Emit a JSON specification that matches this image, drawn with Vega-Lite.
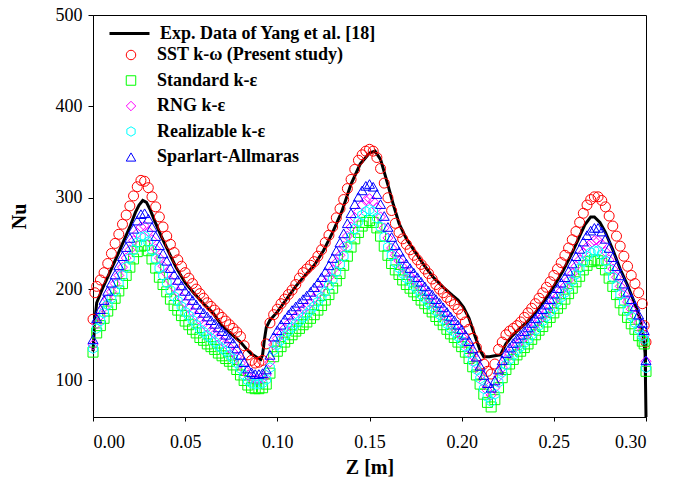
{
"$schema":"https://vega.github.io/schema/vega-lite/v6.json",
"width":553,"height":402,
"autosize":{"type":"none"},
"padding":{"left":93,"top":15,"right":35,"bottom":64},
"background":"white",
"config":{"view":{"stroke":"black","strokeWidth":1},"font":"Liberation Serif",
"axis":{"grid":false,"domainColor":"black","tickColor":"black","labelColor":"black","titleColor":"black","labelFont":"Liberation Serif","labelFontSize":18,"titleFont":"Liberation Serif","titleFontSize":20,"titleFontWeight":"bold","tickSize":5}},
"datasets":{
"exp":[
{"z":0,"nu":132},{"z":0.001,"nu":165},{"z":0.002,"nu":185},{"z":0.005,"nu":200},{"z":0.01,"nu":222},{"z":0.015,"nu":245},{"z":0.02,"nu":268},{"z":0.023,"nu":284},{"z":0.025,"nu":292},{"z":0.027,"nu":297},{"z":0.029,"nu":295},{"z":0.031,"nu":287},{"z":0.034,"nu":272},{"z":0.037,"nu":258},{"z":0.04,"nu":245},{"z":0.045,"nu":224},{"z":0.05,"nu":207},{"z":0.055,"nu":195},{"z":0.06,"nu":184},{"z":0.065,"nu":174},{"z":0.07,"nu":160},{"z":0.075,"nu":151},{"z":0.08,"nu":142},{"z":0.083,"nu":135},{"z":0.086,"nu":129},{"z":0.089,"nu":125},{"z":0.091,"nu":123},{"z":0.092,"nu":128},{"z":0.093,"nu":145},{"z":0.094,"nu":158},{"z":0.096,"nu":166},{"z":0.1,"nu":175},{"z":0.105,"nu":189},{"z":0.11,"nu":203},{"z":0.115,"nu":215},{"z":0.12,"nu":226},{"z":0.125,"nu":242},{"z":0.13,"nu":262},{"z":0.135,"nu":285},{"z":0.14,"nu":315},{"z":0.145,"nu":337},{"z":0.15,"nu":349},{"z":0.153,"nu":351},{"z":0.156,"nu":342},{"z":0.16,"nu":314},{"z":0.163,"nu":292},{"z":0.166,"nu":272},{"z":0.17,"nu":255},{"z":0.175,"nu":240},{"z":0.18,"nu":225},{"z":0.185,"nu":212},{"z":0.19,"nu":202},{"z":0.195,"nu":193},{"z":0.198,"nu":188},{"z":0.201,"nu":180},{"z":0.204,"nu":168},{"z":0.207,"nu":150},{"z":0.21,"nu":133},{"z":0.212,"nu":126},{"z":0.215,"nu":126},{"z":0.218,"nu":127},{"z":0.221,"nu":128},{"z":0.224,"nu":140},{"z":0.227,"nu":148},{"z":0.23,"nu":154},{"z":0.235,"nu":163},{"z":0.24,"nu":174},{"z":0.245,"nu":188},{"z":0.25,"nu":203},{"z":0.255,"nu":220},{"z":0.26,"nu":240},{"z":0.264,"nu":258},{"z":0.267,"nu":271},{"z":0.27,"nu":279},{"z":0.272,"nu":279},{"z":0.275,"nu":273},{"z":0.278,"nu":262},{"z":0.282,"nu":243},{"z":0.286,"nu":222},{"z":0.29,"nu":204},{"z":0.294,"nu":184},{"z":0.297,"nu":166},{"z":0.2985,"nu":150},{"z":0.2995,"nu":130},{"z":0.3,"nu":60}
],
"models":[
{"m":"SST","z":0,"nu":167},{"m":"SST","z":0.001,"nu":196},{"m":"SST","z":0.002,"nu":203},{"m":"SST","z":0.004,"nu":210},{"m":"SST","z":0.006,"nu":218},{"m":"SST","z":0.008,"nu":228},{"m":"SST","z":0.01,"nu":239},{"m":"SST","z":0.012,"nu":250},{"m":"SST","z":0.014,"nu":260},{"m":"SST","z":0.016,"nu":271},{"m":"SST","z":0.018,"nu":281},{"m":"SST","z":0.02,"nu":291},{"m":"SST","z":0.022,"nu":302},{"m":"SST","z":0.024,"nu":312},{"m":"SST","z":0.026,"nu":319},{"m":"SST","z":0.028,"nu":318},{"m":"SST","z":0.03,"nu":311},{"m":"SST","z":0.032,"nu":301},{"m":"SST","z":0.034,"nu":290},{"m":"SST","z":0.036,"nu":279},{"m":"SST","z":0.038,"nu":268},{"m":"SST","z":0.04,"nu":258},{"m":"SST","z":0.042,"nu":249},{"m":"SST","z":0.044,"nu":240},{"m":"SST","z":0.046,"nu":232},{"m":"SST","z":0.048,"nu":225},{"m":"SST","z":0.05,"nu":218},{"m":"SST","z":0.052,"nu":212},{"m":"SST","z":0.054,"nu":206},{"m":"SST","z":0.056,"nu":200},{"m":"SST","z":0.058,"nu":195},{"m":"SST","z":0.06,"nu":190},{"m":"SST","z":0.062,"nu":185},{"m":"SST","z":0.064,"nu":181},{"m":"SST","z":0.066,"nu":177},{"m":"SST","z":0.068,"nu":173},{"m":"SST","z":0.07,"nu":169},{"m":"SST","z":0.072,"nu":165},{"m":"SST","z":0.074,"nu":161},{"m":"SST","z":0.076,"nu":157},{"m":"SST","z":0.078,"nu":153},{"m":"SST","z":0.08,"nu":148},{"m":"SST","z":0.082,"nu":138},{"m":"SST","z":0.084,"nu":128},{"m":"SST","z":0.086,"nu":122},{"m":"SST","z":0.088,"nu":119},{"m":"SST","z":0.09,"nu":120},{"m":"SST","z":0.092,"nu":122},{"m":"SST","z":0.094,"nu":140},{"m":"SST","z":0.096,"nu":163},{"m":"SST","z":0.098,"nu":172},{"m":"SST","z":0.1,"nu":178},{"m":"SST","z":0.102,"nu":184},{"m":"SST","z":0.104,"nu":189},{"m":"SST","z":0.106,"nu":194},{"m":"SST","z":0.108,"nu":199},{"m":"SST","z":0.11,"nu":205},{"m":"SST","z":0.112,"nu":212},{"m":"SST","z":0.114,"nu":218},{"m":"SST","z":0.116,"nu":222},{"m":"SST","z":0.118,"nu":226},{"m":"SST","z":0.12,"nu":230},{"m":"SST","z":0.122,"nu":236},{"m":"SST","z":0.124,"nu":243},{"m":"SST","z":0.126,"nu":251},{"m":"SST","z":0.128,"nu":259},{"m":"SST","z":0.13,"nu":268},{"m":"SST","z":0.132,"nu":278},{"m":"SST","z":0.134,"nu":288},{"m":"SST","z":0.136,"nu":298},{"m":"SST","z":0.138,"nu":310},{"m":"SST","z":0.14,"nu":320},{"m":"SST","z":0.142,"nu":331},{"m":"SST","z":0.144,"nu":341},{"m":"SST","z":0.146,"nu":347},{"m":"SST","z":0.148,"nu":351},{"m":"SST","z":0.15,"nu":353},{"m":"SST","z":0.152,"nu":351},{"m":"SST","z":0.154,"nu":344},{"m":"SST","z":0.156,"nu":332},{"m":"SST","z":0.158,"nu":316},{"m":"SST","z":0.16,"nu":300},{"m":"SST","z":0.162,"nu":286},{"m":"SST","z":0.164,"nu":272},{"m":"SST","z":0.166,"nu":262},{"m":"SST","z":0.168,"nu":255},{"m":"SST","z":0.17,"nu":249},{"m":"SST","z":0.172,"nu":243},{"m":"SST","z":0.174,"nu":237},{"m":"SST","z":0.176,"nu":232},{"m":"SST","z":0.178,"nu":227},{"m":"SST","z":0.18,"nu":222},{"m":"SST","z":0.182,"nu":217},{"m":"SST","z":0.184,"nu":211},{"m":"SST","z":0.186,"nu":205},{"m":"SST","z":0.188,"nu":200},{"m":"SST","z":0.19,"nu":196},{"m":"SST","z":0.192,"nu":191},{"m":"SST","z":0.194,"nu":187},{"m":"SST","z":0.196,"nu":183},{"m":"SST","z":0.198,"nu":178},{"m":"SST","z":0.2,"nu":172},{"m":"SST","z":0.202,"nu":164},{"m":"SST","z":0.204,"nu":156},{"m":"SST","z":0.206,"nu":146},{"m":"SST","z":0.208,"nu":136},{"m":"SST","z":0.21,"nu":127},{"m":"SST","z":0.212,"nu":118},{"m":"SST","z":0.214,"nu":110},{"m":"SST","z":0.216,"nu":107},{"m":"SST","z":0.218,"nu":118},{"m":"SST","z":0.22,"nu":134},{"m":"SST","z":0.222,"nu":142},{"m":"SST","z":0.224,"nu":150},{"m":"SST","z":0.226,"nu":154},{"m":"SST","z":0.228,"nu":157},{"m":"SST","z":0.23,"nu":160},{"m":"SST","z":0.232,"nu":164},{"m":"SST","z":0.234,"nu":169},{"m":"SST","z":0.236,"nu":174},{"m":"SST","z":0.238,"nu":179},{"m":"SST","z":0.24,"nu":184},{"m":"SST","z":0.242,"nu":190},{"m":"SST","z":0.244,"nu":196},{"m":"SST","z":0.246,"nu":202},{"m":"SST","z":0.248,"nu":208},{"m":"SST","z":0.25,"nu":215},{"m":"SST","z":0.252,"nu":222},{"m":"SST","z":0.254,"nu":229},{"m":"SST","z":0.256,"nu":237},{"m":"SST","z":0.258,"nu":245},{"m":"SST","z":0.26,"nu":254},{"m":"SST","z":0.262,"nu":263},{"m":"SST","z":0.264,"nu":273},{"m":"SST","z":0.266,"nu":283},{"m":"SST","z":0.268,"nu":292},{"m":"SST","z":0.27,"nu":298},{"m":"SST","z":0.272,"nu":301},{"m":"SST","z":0.274,"nu":301},{"m":"SST","z":0.276,"nu":297},{"m":"SST","z":0.278,"nu":290},{"m":"SST","z":0.28,"nu":280},{"m":"SST","z":0.282,"nu":269},{"m":"SST","z":0.284,"nu":258},{"m":"SST","z":0.286,"nu":247},{"m":"SST","z":0.288,"nu":236},{"m":"SST","z":0.29,"nu":225},{"m":"SST","z":0.292,"nu":215},{"m":"SST","z":0.294,"nu":206},{"m":"SST","z":0.296,"nu":196},{"m":"SST","z":0.298,"nu":184},{"m":"SST","z":0.299,"nu":160},{"m":"SST","z":0.3,"nu":142},
{"m":"STD","z":0,"nu":131},{"m":"STD","z":0.002,"nu":152},{"m":"STD","z":0.004,"nu":160},{"m":"STD","z":0.006,"nu":168},{"m":"STD","z":0.008,"nu":176},{"m":"STD","z":0.01,"nu":183},{"m":"STD","z":0.012,"nu":190},{"m":"STD","z":0.014,"nu":198},{"m":"STD","z":0.016,"nu":206},{"m":"STD","z":0.018,"nu":215},{"m":"STD","z":0.02,"nu":224},{"m":"STD","z":0.022,"nu":233},{"m":"STD","z":0.024,"nu":241},{"m":"STD","z":0.026,"nu":247},{"m":"STD","z":0.028,"nu":248},{"m":"STD","z":0.03,"nu":242},{"m":"STD","z":0.032,"nu":233},{"m":"STD","z":0.034,"nu":223},{"m":"STD","z":0.036,"nu":213},{"m":"STD","z":0.038,"nu":205},{"m":"STD","z":0.04,"nu":197},{"m":"STD","z":0.042,"nu":189},{"m":"STD","z":0.044,"nu":182},{"m":"STD","z":0.046,"nu":177},{"m":"STD","z":0.048,"nu":171},{"m":"STD","z":0.05,"nu":165},{"m":"STD","z":0.052,"nu":161},{"m":"STD","z":0.054,"nu":156},{"m":"STD","z":0.056,"nu":152},{"m":"STD","z":0.058,"nu":147},{"m":"STD","z":0.06,"nu":144},{"m":"STD","z":0.062,"nu":140},{"m":"STD","z":0.064,"nu":137},{"m":"STD","z":0.066,"nu":134},{"m":"STD","z":0.068,"nu":130},{"m":"STD","z":0.07,"nu":127},{"m":"STD","z":0.072,"nu":124},{"m":"STD","z":0.074,"nu":121},{"m":"STD","z":0.076,"nu":117},{"m":"STD","z":0.078,"nu":112},{"m":"STD","z":0.08,"nu":106},{"m":"STD","z":0.082,"nu":100},{"m":"STD","z":0.084,"nu":95},{"m":"STD","z":0.086,"nu":92},{"m":"STD","z":0.088,"nu":91},{"m":"STD","z":0.09,"nu":91},{"m":"STD","z":0.092,"nu":92},{"m":"STD","z":0.094,"nu":96},{"m":"STD","z":0.096,"nu":108},{"m":"STD","z":0.098,"nu":126},{"m":"STD","z":0.1,"nu":132},{"m":"STD","z":0.102,"nu":137},{"m":"STD","z":0.104,"nu":142},{"m":"STD","z":0.106,"nu":146},{"m":"STD","z":0.108,"nu":150},{"m":"STD","z":0.11,"nu":154},{"m":"STD","z":0.112,"nu":157},{"m":"STD","z":0.114,"nu":161},{"m":"STD","z":0.116,"nu":164},{"m":"STD","z":0.118,"nu":168},{"m":"STD","z":0.12,"nu":172},{"m":"STD","z":0.122,"nu":177},{"m":"STD","z":0.124,"nu":182},{"m":"STD","z":0.126,"nu":188},{"m":"STD","z":0.128,"nu":194},{"m":"STD","z":0.13,"nu":201},{"m":"STD","z":0.132,"nu":209},{"m":"STD","z":0.134,"nu":217},{"m":"STD","z":0.136,"nu":226},{"m":"STD","z":0.138,"nu":236},{"m":"STD","z":0.14,"nu":246},{"m":"STD","z":0.142,"nu":255},{"m":"STD","z":0.144,"nu":262},{"m":"STD","z":0.146,"nu":269},{"m":"STD","z":0.148,"nu":273},{"m":"STD","z":0.15,"nu":275},{"m":"STD","z":0.152,"nu":273},{"m":"STD","z":0.154,"nu":267},{"m":"STD","z":0.156,"nu":258},{"m":"STD","z":0.158,"nu":247},{"m":"STD","z":0.16,"nu":237},{"m":"STD","z":0.162,"nu":228},{"m":"STD","z":0.164,"nu":221},{"m":"STD","z":0.166,"nu":216},{"m":"STD","z":0.168,"nu":210},{"m":"STD","z":0.17,"nu":205},{"m":"STD","z":0.172,"nu":201},{"m":"STD","z":0.174,"nu":197},{"m":"STD","z":0.176,"nu":193},{"m":"STD","z":0.178,"nu":188},{"m":"STD","z":0.18,"nu":184},{"m":"STD","z":0.182,"nu":179},{"m":"STD","z":0.184,"nu":175},{"m":"STD","z":0.186,"nu":170},{"m":"STD","z":0.188,"nu":166},{"m":"STD","z":0.19,"nu":161},{"m":"STD","z":0.192,"nu":156},{"m":"STD","z":0.194,"nu":151},{"m":"STD","z":0.196,"nu":147},{"m":"STD","z":0.198,"nu":142},{"m":"STD","z":0.2,"nu":137},{"m":"STD","z":0.202,"nu":131},{"m":"STD","z":0.204,"nu":124},{"m":"STD","z":0.206,"nu":115},{"m":"STD","z":0.208,"nu":106},{"m":"STD","z":0.21,"nu":96},{"m":"STD","z":0.212,"nu":85},{"m":"STD","z":0.214,"nu":76},{"m":"STD","z":0.216,"nu":71},{"m":"STD","z":0.218,"nu":79},{"m":"STD","z":0.22,"nu":92},{"m":"STD","z":0.222,"nu":103},{"m":"STD","z":0.224,"nu":112},{"m":"STD","z":0.226,"nu":118},{"m":"STD","z":0.228,"nu":123},{"m":"STD","z":0.23,"nu":128},{"m":"STD","z":0.232,"nu":132},{"m":"STD","z":0.234,"nu":136},{"m":"STD","z":0.236,"nu":140},{"m":"STD","z":0.238,"nu":145},{"m":"STD","z":0.24,"nu":150},{"m":"STD","z":0.242,"nu":155},{"m":"STD","z":0.244,"nu":159},{"m":"STD","z":0.246,"nu":164},{"m":"STD","z":0.248,"nu":169},{"m":"STD","z":0.25,"nu":174},{"m":"STD","z":0.252,"nu":179},{"m":"STD","z":0.254,"nu":184},{"m":"STD","z":0.256,"nu":189},{"m":"STD","z":0.258,"nu":195},{"m":"STD","z":0.26,"nu":201},{"m":"STD","z":0.262,"nu":208},{"m":"STD","z":0.264,"nu":214},{"m":"STD","z":0.266,"nu":221},{"m":"STD","z":0.268,"nu":226},{"m":"STD","z":0.27,"nu":230},{"m":"STD","z":0.272,"nu":232},{"m":"STD","z":0.274,"nu":231},{"m":"STD","z":0.276,"nu":228},{"m":"STD","z":0.278,"nu":221},{"m":"STD","z":0.28,"nu":212},{"m":"STD","z":0.282,"nu":203},{"m":"STD","z":0.284,"nu":194},{"m":"STD","z":0.286,"nu":185},{"m":"STD","z":0.288,"nu":177},{"m":"STD","z":0.29,"nu":169},{"m":"STD","z":0.292,"nu":162},{"m":"STD","z":0.294,"nu":156},{"m":"STD","z":0.296,"nu":149},{"m":"STD","z":0.298,"nu":143},{"m":"STD","z":0.299,"nu":140},{"m":"STD","z":0.3,"nu":110},
{"m":"RNG","z":0,"nu":139},{"m":"RNG","z":0.002,"nu":162},{"m":"RNG","z":0.004,"nu":171},{"m":"RNG","z":0.006,"nu":180},{"m":"RNG","z":0.008,"nu":189},{"m":"RNG","z":0.01,"nu":197},{"m":"RNG","z":0.012,"nu":206},{"m":"RNG","z":0.014,"nu":215},{"m":"RNG","z":0.016,"nu":224},{"m":"RNG","z":0.018,"nu":234},{"m":"RNG","z":0.02,"nu":243},{"m":"RNG","z":0.022,"nu":253},{"m":"RNG","z":0.024,"nu":261},{"m":"RNG","z":0.026,"nu":268},{"m":"RNG","z":0.028,"nu":269},{"m":"RNG","z":0.03,"nu":263},{"m":"RNG","z":0.032,"nu":254},{"m":"RNG","z":0.034,"nu":244},{"m":"RNG","z":0.036,"nu":234},{"m":"RNG","z":0.038,"nu":225},{"m":"RNG","z":0.04,"nu":217},{"m":"RNG","z":0.042,"nu":209},{"m":"RNG","z":0.044,"nu":202},{"m":"RNG","z":0.046,"nu":197},{"m":"RNG","z":0.048,"nu":191},{"m":"RNG","z":0.05,"nu":185},{"m":"RNG","z":0.052,"nu":180},{"m":"RNG","z":0.054,"nu":175},{"m":"RNG","z":0.056,"nu":171},{"m":"RNG","z":0.058,"nu":166},{"m":"RNG","z":0.06,"nu":162},{"m":"RNG","z":0.062,"nu":158},{"m":"RNG","z":0.064,"nu":154},{"m":"RNG","z":0.066,"nu":151},{"m":"RNG","z":0.068,"nu":147},{"m":"RNG","z":0.07,"nu":143},{"m":"RNG","z":0.072,"nu":140},{"m":"RNG","z":0.074,"nu":136},{"m":"RNG","z":0.076,"nu":131},{"m":"RNG","z":0.078,"nu":126},{"m":"RNG","z":0.08,"nu":119},{"m":"RNG","z":0.082,"nu":112},{"m":"RNG","z":0.084,"nu":106},{"m":"RNG","z":0.086,"nu":102},{"m":"RNG","z":0.088,"nu":101},{"m":"RNG","z":0.09,"nu":101},{"m":"RNG","z":0.092,"nu":102},{"m":"RNG","z":0.094,"nu":106},{"m":"RNG","z":0.096,"nu":120},{"m":"RNG","z":0.098,"nu":139},{"m":"RNG","z":0.1,"nu":146},{"m":"RNG","z":0.102,"nu":151},{"m":"RNG","z":0.104,"nu":157},{"m":"RNG","z":0.106,"nu":162},{"m":"RNG","z":0.108,"nu":166},{"m":"RNG","z":0.11,"nu":170},{"m":"RNG","z":0.112,"nu":174},{"m":"RNG","z":0.114,"nu":178},{"m":"RNG","z":0.116,"nu":181},{"m":"RNG","z":0.118,"nu":185},{"m":"RNG","z":0.12,"nu":190},{"m":"RNG","z":0.122,"nu":195},{"m":"RNG","z":0.124,"nu":201},{"m":"RNG","z":0.126,"nu":207},{"m":"RNG","z":0.128,"nu":213},{"m":"RNG","z":0.13,"nu":221},{"m":"RNG","z":0.132,"nu":229},{"m":"RNG","z":0.134,"nu":237},{"m":"RNG","z":0.136,"nu":247},{"m":"RNG","z":0.138,"nu":258},{"m":"RNG","z":0.14,"nu":268},{"m":"RNG","z":0.142,"nu":278},{"m":"RNG","z":0.144,"nu":285},{"m":"RNG","z":0.146,"nu":292},{"m":"RNG","z":0.148,"nu":297},{"m":"RNG","z":0.15,"nu":299},{"m":"RNG","z":0.152,"nu":296},{"m":"RNG","z":0.154,"nu":289},{"m":"RNG","z":0.156,"nu":279},{"m":"RNG","z":0.158,"nu":267},{"m":"RNG","z":0.16,"nu":256},{"m":"RNG","z":0.162,"nu":245},{"m":"RNG","z":0.164,"nu":237},{"m":"RNG","z":0.166,"nu":231},{"m":"RNG","z":0.168,"nu":224},{"m":"RNG","z":0.17,"nu":219},{"m":"RNG","z":0.172,"nu":214},{"m":"RNG","z":0.174,"nu":210},{"m":"RNG","z":0.176,"nu":205},{"m":"RNG","z":0.178,"nu":200},{"m":"RNG","z":0.18,"nu":195},{"m":"RNG","z":0.182,"nu":190},{"m":"RNG","z":0.184,"nu":186},{"m":"RNG","z":0.186,"nu":181},{"m":"RNG","z":0.188,"nu":177},{"m":"RNG","z":0.19,"nu":172},{"m":"RNG","z":0.192,"nu":167},{"m":"RNG","z":0.194,"nu":162},{"m":"RNG","z":0.196,"nu":158},{"m":"RNG","z":0.198,"nu":153},{"m":"RNG","z":0.2,"nu":148},{"m":"RNG","z":0.202,"nu":142},{"m":"RNG","z":0.204,"nu":135},{"m":"RNG","z":0.206,"nu":127},{"m":"RNG","z":0.208,"nu":118},{"m":"RNG","z":0.21,"nu":108},{"m":"RNG","z":0.212,"nu":98},{"m":"RNG","z":0.214,"nu":89},{"m":"RNG","z":0.216,"nu":84},{"m":"RNG","z":0.218,"nu":92},{"m":"RNG","z":0.22,"nu":104},{"m":"RNG","z":0.222,"nu":114},{"m":"RNG","z":0.224,"nu":123},{"m":"RNG","z":0.226,"nu":129},{"m":"RNG","z":0.228,"nu":134},{"m":"RNG","z":0.23,"nu":139},{"m":"RNG","z":0.232,"nu":143},{"m":"RNG","z":0.234,"nu":147},{"m":"RNG","z":0.236,"nu":151},{"m":"RNG","z":0.238,"nu":156},{"m":"RNG","z":0.24,"nu":161},{"m":"RNG","z":0.242,"nu":166},{"m":"RNG","z":0.244,"nu":170},{"m":"RNG","z":0.246,"nu":175},{"m":"RNG","z":0.248,"nu":181},{"m":"RNG","z":0.25,"nu":187},{"m":"RNG","z":0.252,"nu":192},{"m":"RNG","z":0.254,"nu":198},{"m":"RNG","z":0.256,"nu":203},{"m":"RNG","z":0.258,"nu":210},{"m":"RNG","z":0.26,"nu":217},{"m":"RNG","z":0.262,"nu":225},{"m":"RNG","z":0.264,"nu":232},{"m":"RNG","z":0.266,"nu":240},{"m":"RNG","z":0.268,"nu":246},{"m":"RNG","z":0.27,"nu":250},{"m":"RNG","z":0.272,"nu":253},{"m":"RNG","z":0.274,"nu":253},{"m":"RNG","z":0.276,"nu":249},{"m":"RNG","z":0.278,"nu":241},{"m":"RNG","z":0.28,"nu":232},{"m":"RNG","z":0.282,"nu":222},{"m":"RNG","z":0.284,"nu":213},{"m":"RNG","z":0.286,"nu":203},{"m":"RNG","z":0.288,"nu":194},{"m":"RNG","z":0.29,"nu":186},{"m":"RNG","z":0.292,"nu":178},{"m":"RNG","z":0.294,"nu":171},{"m":"RNG","z":0.296,"nu":163},{"m":"RNG","z":0.298,"nu":155},{"m":"RNG","z":0.299,"nu":149},{"m":"RNG","z":0.3,"nu":121},
{"m":"RLZ","z":0,"nu":135},{"m":"RLZ","z":0.002,"nu":157},{"m":"RLZ","z":0.004,"nu":165},{"m":"RLZ","z":0.006,"nu":174},{"m":"RLZ","z":0.008,"nu":183},{"m":"RLZ","z":0.01,"nu":190},{"m":"RLZ","z":0.012,"nu":198},{"m":"RLZ","z":0.014,"nu":206},{"m":"RLZ","z":0.016,"nu":215},{"m":"RLZ","z":0.018,"nu":224},{"m":"RLZ","z":0.02,"nu":234},{"m":"RLZ","z":0.022,"nu":243},{"m":"RLZ","z":0.024,"nu":251},{"m":"RLZ","z":0.026,"nu":257},{"m":"RLZ","z":0.028,"nu":258},{"m":"RLZ","z":0.03,"nu":252},{"m":"RLZ","z":0.032,"nu":243},{"m":"RLZ","z":0.034,"nu":233},{"m":"RLZ","z":0.036,"nu":223},{"m":"RLZ","z":0.038,"nu":215},{"m":"RLZ","z":0.04,"nu":207},{"m":"RLZ","z":0.042,"nu":199},{"m":"RLZ","z":0.044,"nu":192},{"m":"RLZ","z":0.046,"nu":187},{"m":"RLZ","z":0.048,"nu":181},{"m":"RLZ","z":0.05,"nu":175},{"m":"RLZ","z":0.052,"nu":171},{"m":"RLZ","z":0.054,"nu":166},{"m":"RLZ","z":0.056,"nu":161},{"m":"RLZ","z":0.058,"nu":156},{"m":"RLZ","z":0.06,"nu":153},{"m":"RLZ","z":0.062,"nu":149},{"m":"RLZ","z":0.064,"nu":146},{"m":"RLZ","z":0.066,"nu":142},{"m":"RLZ","z":0.068,"nu":138},{"m":"RLZ","z":0.07,"nu":135},{"m":"RLZ","z":0.072,"nu":132},{"m":"RLZ","z":0.074,"nu":128},{"m":"RLZ","z":0.076,"nu":124},{"m":"RLZ","z":0.078,"nu":119},{"m":"RLZ","z":0.08,"nu":113},{"m":"RLZ","z":0.082,"nu":106},{"m":"RLZ","z":0.084,"nu":100},{"m":"RLZ","z":0.086,"nu":97},{"m":"RLZ","z":0.088,"nu":96},{"m":"RLZ","z":0.09,"nu":96},{"m":"RLZ","z":0.092,"nu":97},{"m":"RLZ","z":0.094,"nu":101},{"m":"RLZ","z":0.096,"nu":114},{"m":"RLZ","z":0.098,"nu":133},{"m":"RLZ","z":0.1,"nu":139},{"m":"RLZ","z":0.102,"nu":144},{"m":"RLZ","z":0.104,"nu":149},{"m":"RLZ","z":0.106,"nu":154},{"m":"RLZ","z":0.108,"nu":158},{"m":"RLZ","z":0.11,"nu":162},{"m":"RLZ","z":0.112,"nu":165},{"m":"RLZ","z":0.114,"nu":169},{"m":"RLZ","z":0.116,"nu":173},{"m":"RLZ","z":0.118,"nu":177},{"m":"RLZ","z":0.12,"nu":181},{"m":"RLZ","z":0.122,"nu":186},{"m":"RLZ","z":0.124,"nu":191},{"m":"RLZ","z":0.126,"nu":197},{"m":"RLZ","z":0.128,"nu":204},{"m":"RLZ","z":0.13,"nu":211},{"m":"RLZ","z":0.132,"nu":219},{"m":"RLZ","z":0.134,"nu":227},{"m":"RLZ","z":0.136,"nu":236},{"m":"RLZ","z":0.138,"nu":247},{"m":"RLZ","z":0.14,"nu":257},{"m":"RLZ","z":0.142,"nu":266},{"m":"RLZ","z":0.144,"nu":274},{"m":"RLZ","z":0.146,"nu":281},{"m":"RLZ","z":0.148,"nu":285},{"m":"RLZ","z":0.15,"nu":287},{"m":"RLZ","z":0.152,"nu":285},{"m":"RLZ","z":0.154,"nu":278},{"m":"RLZ","z":0.156,"nu":268},{"m":"RLZ","z":0.158,"nu":257},{"m":"RLZ","z":0.16,"nu":246},{"m":"RLZ","z":0.162,"nu":237},{"m":"RLZ","z":0.164,"nu":229},{"m":"RLZ","z":0.166,"nu":223},{"m":"RLZ","z":0.168,"nu":217},{"m":"RLZ","z":0.17,"nu":212},{"m":"RLZ","z":0.172,"nu":208},{"m":"RLZ","z":0.174,"nu":203},{"m":"RLZ","z":0.176,"nu":199},{"m":"RLZ","z":0.178,"nu":194},{"m":"RLZ","z":0.18,"nu":190},{"m":"RLZ","z":0.182,"nu":185},{"m":"RLZ","z":0.184,"nu":181},{"m":"RLZ","z":0.186,"nu":176},{"m":"RLZ","z":0.188,"nu":172},{"m":"RLZ","z":0.19,"nu":167},{"m":"RLZ","z":0.192,"nu":162},{"m":"RLZ","z":0.194,"nu":157},{"m":"RLZ","z":0.196,"nu":153},{"m":"RLZ","z":0.198,"nu":148},{"m":"RLZ","z":0.2,"nu":143},{"m":"RLZ","z":0.202,"nu":137},{"m":"RLZ","z":0.204,"nu":130},{"m":"RLZ","z":0.206,"nu":121},{"m":"RLZ","z":0.208,"nu":112},{"m":"RLZ","z":0.21,"nu":102},{"m":"RLZ","z":0.212,"nu":91},{"m":"RLZ","z":0.214,"nu":82},{"m":"RLZ","z":0.216,"nu":77},{"m":"RLZ","z":0.218,"nu":85},{"m":"RLZ","z":0.22,"nu":98},{"m":"RLZ","z":0.222,"nu":109},{"m":"RLZ","z":0.224,"nu":117},{"m":"RLZ","z":0.226,"nu":123},{"m":"RLZ","z":0.228,"nu":128},{"m":"RLZ","z":0.23,"nu":133},{"m":"RLZ","z":0.232,"nu":137},{"m":"RLZ","z":0.234,"nu":141},{"m":"RLZ","z":0.236,"nu":145},{"m":"RLZ","z":0.238,"nu":150},{"m":"RLZ","z":0.24,"nu":155},{"m":"RLZ","z":0.242,"nu":160},{"m":"RLZ","z":0.244,"nu":165},{"m":"RLZ","z":0.246,"nu":170},{"m":"RLZ","z":0.248,"nu":175},{"m":"RLZ","z":0.25,"nu":180},{"m":"RLZ","z":0.252,"nu":186},{"m":"RLZ","z":0.254,"nu":191},{"m":"RLZ","z":0.256,"nu":196},{"m":"RLZ","z":0.258,"nu":202},{"m":"RLZ","z":0.26,"nu":209},{"m":"RLZ","z":0.262,"nu":216},{"m":"RLZ","z":0.264,"nu":223},{"m":"RLZ","z":0.266,"nu":230},{"m":"RLZ","z":0.268,"nu":236},{"m":"RLZ","z":0.27,"nu":240},{"m":"RLZ","z":0.272,"nu":242},{"m":"RLZ","z":0.274,"nu":242},{"m":"RLZ","z":0.276,"nu":238},{"m":"RLZ","z":0.278,"nu":231},{"m":"RLZ","z":0.28,"nu":222},{"m":"RLZ","z":0.282,"nu":213},{"m":"RLZ","z":0.284,"nu":203},{"m":"RLZ","z":0.286,"nu":194},{"m":"RLZ","z":0.288,"nu":186},{"m":"RLZ","z":0.29,"nu":177},{"m":"RLZ","z":0.292,"nu":170},{"m":"RLZ","z":0.294,"nu":163},{"m":"RLZ","z":0.296,"nu":156},{"m":"RLZ","z":0.298,"nu":149},{"m":"RLZ","z":0.299,"nu":145},{"m":"RLZ","z":0.3,"nu":114},
{"m":"SA","z":0,"nu":145},{"m":"SA","z":0.002,"nu":168},{"m":"SA","z":0.004,"nu":178},{"m":"SA","z":0.006,"nu":188},{"m":"SA","z":0.008,"nu":198},{"m":"SA","z":0.01,"nu":207},{"m":"SA","z":0.012,"nu":216},{"m":"SA","z":0.014,"nu":226},{"m":"SA","z":0.016,"nu":236},{"m":"SA","z":0.018,"nu":246},{"m":"SA","z":0.02,"nu":256},{"m":"SA","z":0.022,"nu":266},{"m":"SA","z":0.024,"nu":275},{"m":"SA","z":0.026,"nu":282},{"m":"SA","z":0.028,"nu":283},{"m":"SA","z":0.03,"nu":277},{"m":"SA","z":0.032,"nu":268},{"m":"SA","z":0.034,"nu":258},{"m":"SA","z":0.036,"nu":248},{"m":"SA","z":0.038,"nu":239},{"m":"SA","z":0.04,"nu":231},{"m":"SA","z":0.042,"nu":223},{"m":"SA","z":0.044,"nu":216},{"m":"SA","z":0.046,"nu":210},{"m":"SA","z":0.048,"nu":204},{"m":"SA","z":0.05,"nu":198},{"m":"SA","z":0.052,"nu":193},{"m":"SA","z":0.054,"nu":188},{"m":"SA","z":0.056,"nu":183},{"m":"SA","z":0.058,"nu":178},{"m":"SA","z":0.06,"nu":174},{"m":"SA","z":0.062,"nu":170},{"m":"SA","z":0.064,"nu":166},{"m":"SA","z":0.066,"nu":162},{"m":"SA","z":0.068,"nu":158},{"m":"SA","z":0.07,"nu":154},{"m":"SA","z":0.072,"nu":150},{"m":"SA","z":0.074,"nu":146},{"m":"SA","z":0.076,"nu":141},{"m":"SA","z":0.078,"nu":135},{"m":"SA","z":0.08,"nu":128},{"m":"SA","z":0.082,"nu":120},{"m":"SA","z":0.084,"nu":113},{"m":"SA","z":0.086,"nu":109},{"m":"SA","z":0.088,"nu":107},{"m":"SA","z":0.09,"nu":107},{"m":"SA","z":0.092,"nu":108},{"m":"SA","z":0.094,"nu":112},{"m":"SA","z":0.096,"nu":128},{"m":"SA","z":0.098,"nu":148},{"m":"SA","z":0.1,"nu":155},{"m":"SA","z":0.102,"nu":161},{"m":"SA","z":0.104,"nu":167},{"m":"SA","z":0.106,"nu":172},{"m":"SA","z":0.108,"nu":177},{"m":"SA","z":0.11,"nu":181},{"m":"SA","z":0.112,"nu":185},{"m":"SA","z":0.114,"nu":189},{"m":"SA","z":0.116,"nu":193},{"m":"SA","z":0.118,"nu":197},{"m":"SA","z":0.12,"nu":202},{"m":"SA","z":0.122,"nu":207},{"m":"SA","z":0.124,"nu":213},{"m":"SA","z":0.126,"nu":219},{"m":"SA","z":0.128,"nu":226},{"m":"SA","z":0.13,"nu":234},{"m":"SA","z":0.132,"nu":242},{"m":"SA","z":0.134,"nu":251},{"m":"SA","z":0.136,"nu":261},{"m":"SA","z":0.138,"nu":272},{"m":"SA","z":0.14,"nu":283},{"m":"SA","z":0.142,"nu":293},{"m":"SA","z":0.144,"nu":301},{"m":"SA","z":0.146,"nu":308},{"m":"SA","z":0.148,"nu":313},{"m":"SA","z":0.15,"nu":315},{"m":"SA","z":0.152,"nu":312},{"m":"SA","z":0.154,"nu":304},{"m":"SA","z":0.156,"nu":293},{"m":"SA","z":0.158,"nu":280},{"m":"SA","z":0.16,"nu":268},{"m":"SA","z":0.162,"nu":257},{"m":"SA","z":0.164,"nu":248},{"m":"SA","z":0.166,"nu":241},{"m":"SA","z":0.168,"nu":234},{"m":"SA","z":0.17,"nu":228},{"m":"SA","z":0.172,"nu":223},{"m":"SA","z":0.174,"nu":218},{"m":"SA","z":0.176,"nu":213},{"m":"SA","z":0.178,"nu":208},{"m":"SA","z":0.18,"nu":203},{"m":"SA","z":0.182,"nu":198},{"m":"SA","z":0.184,"nu":194},{"m":"SA","z":0.186,"nu":189},{"m":"SA","z":0.188,"nu":185},{"m":"SA","z":0.19,"nu":180},{"m":"SA","z":0.192,"nu":175},{"m":"SA","z":0.194,"nu":170},{"m":"SA","z":0.196,"nu":166},{"m":"SA","z":0.198,"nu":161},{"m":"SA","z":0.2,"nu":156},{"m":"SA","z":0.202,"nu":150},{"m":"SA","z":0.204,"nu":143},{"m":"SA","z":0.206,"nu":135},{"m":"SA","z":0.208,"nu":126},{"m":"SA","z":0.21,"nu":116},{"m":"SA","z":0.212,"nu":106},{"m":"SA","z":0.214,"nu":97},{"m":"SA","z":0.216,"nu":92},{"m":"SA","z":0.218,"nu":100},{"m":"SA","z":0.22,"nu":112},{"m":"SA","z":0.222,"nu":122},{"m":"SA","z":0.224,"nu":130},{"m":"SA","z":0.226,"nu":136},{"m":"SA","z":0.228,"nu":141},{"m":"SA","z":0.23,"nu":146},{"m":"SA","z":0.232,"nu":150},{"m":"SA","z":0.234,"nu":154},{"m":"SA","z":0.236,"nu":158},{"m":"SA","z":0.238,"nu":163},{"m":"SA","z":0.24,"nu":168},{"m":"SA","z":0.242,"nu":173},{"m":"SA","z":0.244,"nu":178},{"m":"SA","z":0.246,"nu":183},{"m":"SA","z":0.248,"nu":189},{"m":"SA","z":0.25,"nu":195},{"m":"SA","z":0.252,"nu":201},{"m":"SA","z":0.254,"nu":207},{"m":"SA","z":0.256,"nu":213},{"m":"SA","z":0.258,"nu":220},{"m":"SA","z":0.26,"nu":228},{"m":"SA","z":0.262,"nu":236},{"m":"SA","z":0.264,"nu":244},{"m":"SA","z":0.266,"nu":252},{"m":"SA","z":0.268,"nu":259},{"m":"SA","z":0.27,"nu":264},{"m":"SA","z":0.272,"nu":267},{"m":"SA","z":0.274,"nu":267},{"m":"SA","z":0.276,"nu":263},{"m":"SA","z":0.278,"nu":255},{"m":"SA","z":0.28,"nu":245},{"m":"SA","z":0.282,"nu":235},{"m":"SA","z":0.284,"nu":225},{"m":"SA","z":0.286,"nu":215},{"m":"SA","z":0.288,"nu":206},{"m":"SA","z":0.29,"nu":197},{"m":"SA","z":0.292,"nu":189},{"m":"SA","z":0.294,"nu":181},{"m":"SA","z":0.296,"nu":172},{"m":"SA","z":0.298,"nu":163},{"m":"SA","z":0.299,"nu":155},{"m":"SA","z":0.3,"nu":122}
]},
"layer":[
{"data":{"name":"exp"},
"mark":{"type":"line","strokeWidth":3,"color":"black"},
"encoding":{
"x":{"field":"z","type":"quantitative","scale":{"domain":[0,0.3],"nice":false,"zero":false},
"axis":{"title":"Z [m]","values":[0,0.05,0.1,0.15,0.2,0.25,0.3],"format":".2f","tickSize":4,"labelPadding":12,"titlePadding":6}},
"y":{"field":"nu","type":"quantitative","scale":{"domain":[60,500],"nice":false,"zero":false},
"axis":{"title":"Nu","values":[100,200,300,400,500],"labelPadding":6,"titlePadding":26}},
"color":{"datum":"Exp. Data of Yang et al. [18]","type":"nominal","scale":{"range":["black"]},
"legend":{"title":null,"orient":"none","legendX":15,"legendY":-3,"symbolType":"stroke","symbolSize":1600,"symbolStrokeWidth":3,"labelFont":"Liberation Serif","labelFontSize":18,"labelFontWeight":"bold","labelColor":"black","labelOffset":9,"labelLimit":0,"padding":0}}
}},
{"data":{"name":"models"},
"mark":{"type":"point","filled":false,"size":100,"strokeWidth":1,"opacity":1},
"encoding":{
"x":{"field":"z","type":"quantitative"},
"y":{"field":"nu","type":"quantitative"},
"color":{"field":"m","type":"nominal","scale":{"domain":["SST","STD","RNG","RLZ","SA"],"range":["#ff0000","#00ff00","#ff00ff","#00ffff","#0000ff"]},
"legend":{"title":null,"orient":"none","legendX":29,"legendY":31,"symbolSize":90,"symbolStrokeWidth":1,"labelFont":"Liberation Serif","labelFontSize":18,"labelFontWeight":"bold","labelColor":"black","labelOffset":17,"labelLimit":0,"rowPadding":7.5,"padding":0,"labelExpr":"{'SST':'SST k-ω (Present study)','STD':'Standard k-ε','RNG':'RNG k-ε','RLZ':'Realizable k-ε','SA':'Sparlart-Allmaras'}[datum.label]"}},
"shape":{"field":"m","type":"nominal","scale":{"domain":["SST","STD","RNG","RLZ","SA"],"range":["circle","square","diamond","M0,-1L0.87,-0.5L0.87,0.5L0,1L-0.87,0.5L-0.87,-0.5Z","triangle-up"]},
"legend":{"title":null,"orient":"none","legendX":29,"legendY":31,"symbolSize":90,"symbolStrokeWidth":1,"labelFont":"Liberation Serif","labelFontSize":18,"labelFontWeight":"bold","labelColor":"black","labelOffset":17,"labelLimit":0,"rowPadding":7.5,"padding":0,"labelExpr":"{'SST':'SST k-ω (Present study)','STD':'Standard k-ε','RNG':'RNG k-ε','RLZ':'Realizable k-ε','SA':'Sparlart-Allmaras'}[datum.label]"}}
}}
],
"resolve":{"scale":{"color":"independent","shape":"independent"}}
}
